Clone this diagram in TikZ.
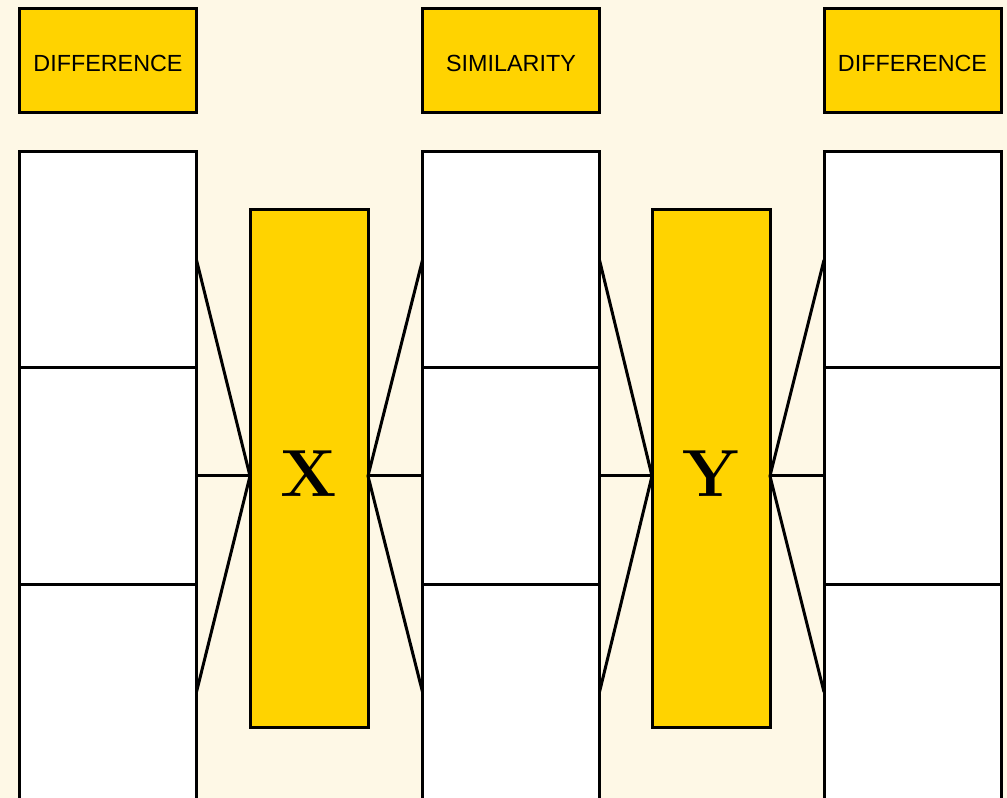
\documentclass[tikz,border=0pt]{standalone}
\usepackage{fontspec}
\setsansfont{Liberation Sans}
\definecolor{cream}{HTML}{FEF8E6}
\definecolor{gold}{HTML}{FFD300}
\begin{document}
\begin{tikzpicture}[x=0.75pt,y=-0.75pt,line width=2.25pt,
  headbox/.style={draw,fill=gold,minimum width=132.75pt,minimum height=78pt,
    inner sep=0pt,outer sep=0pt,anchor=north west,text height=16pt,text depth=0pt,
    font=\sffamily\fontsize{17.5}{20}\selectfont},
  cell/.style={draw,fill=white,minimum width=132.75pt,minimum height=162pt,
    inner sep=0pt,outer sep=0pt,anchor=north west},
  hub/.style={draw,fill=gold,minimum width=88.5pt,minimum height=387.75pt,
    inner sep=0pt,outer sep=0pt,anchor=north west},
  hubletter/.style={font=\bfseries\fontsize{50}{50}\selectfont},
  link/.style={draw,line width=2.25pt}]
\useasboundingbox[fill=cream] (0,0) rectangle (1007,798);

% headings
\node[headbox] (h1) at (19.5,8.5) {DIFFERENCE};
\node[headbox] (h2) at (422.5,8.5) {SIMILARITY};
\node[headbox] (h3) at (824,8.5) {DIFFERENCE};

% three columns of three cells each
\foreach \c/\x in {1/19.5,2/422.5,3/824}{
  \node[cell] (c\c a) at (\x,152) {};
  \node[cell] (c\c b) at (\x,368) {};
  \node[cell] (c\c c) at (\x,584) {};
}

% central bars
\node[hub] (X) at (250,210) {};
\node[hub] (Y) at (652,210) {};
\node[hubletter] (xl) at (X.center |- 0,474) {X};
\node[hubletter] (yl) at (Y.center |- 0,474) {Y};

% meeting points on the bars
\coordinate (xw) at (c1b.east -| X.west);
\coordinate (xe) at (c2b.west -| X.east);
\coordinate (yw) at (c2b.east -| Y.west);
\coordinate (ye) at (c3b.west -| Y.east);

% connectors
\draw[link] (c1a.east) -- (xw) -- (c1c.east);
\draw[link] (c1b.east) -- (xw);
\draw[link] (c2a.west) -- (xe) -- (c2c.west);
\draw[link] (c2b.west) -- (xe);
\draw[link] (c2a.east) -- (yw) -- (c2c.east);
\draw[link] (c2b.east) -- (yw);
\draw[link] (c3a.west) -- (ye) -- (c3c.west);
\draw[link] (c3b.west) -- (ye);
\end{tikzpicture}
\end{document}
